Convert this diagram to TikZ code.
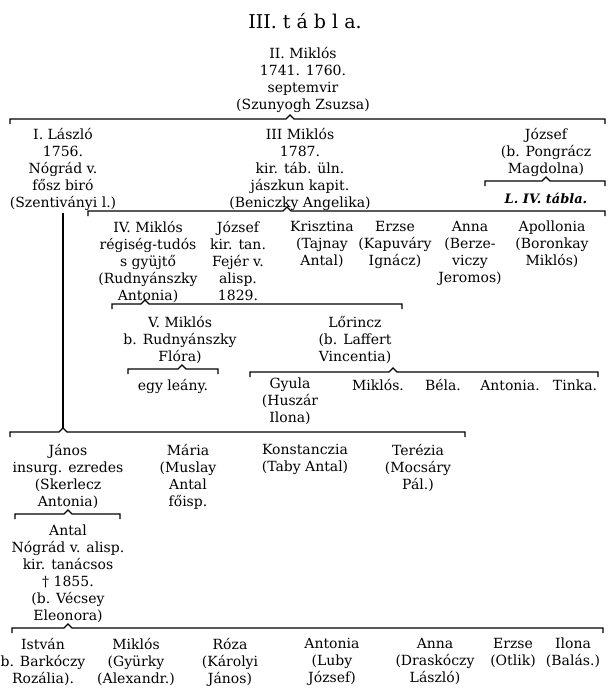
\documentclass[tikz,border=0pt]{standalone}
\usepackage{fontspec}
\setmainfont{DejaVu Serif}
\usetikzlibrary{positioning, calc}

\newcommand{\ag}[3]{\draw[vonal] ([yshift=-5pt]#1) -- (#1) -- ([xshift=-4pt]#2) -- ([yshift=4pt]#2) -- ([xshift=4pt]#2) -- (#3) -- ([yshift=-5pt]#3);}

\begin{document}
\begin{tikzpicture}[x=1pt, y=-1pt,
      szemely/.style={anchor=north, align=center, inner sep=0pt,
        font={\fontsize{14}{17}\selectfont}, execute at begin node=\strut},
      cim/.style={anchor=north, inner sep=0pt, font={\fontsize{19}{22}\selectfont}},
      vonal/.style={draw=black, line width=1.2pt}]
    \useasboundingbox (0,0) rectangle (611,688);
    \node[cim] (tabla) at (305,13) {III. t á b l a.};
    \node[szemely] (ii) at (303,47) {II. Miklós\\1741. 1760.\\septemvir\\(Szunyogh Zsuzsa)};

    \node[szemely] (laszlo) at (63,128) {I. László\\1756.\\Nógrád v.\\fősz biró\\(Szentiványi l.)};
    \node[szemely] (miklos3) at (300,128) {III Miklós\\1787.\\kir. táb. üln.\\jászkun kapit.\\(Beniczky Angelika)};
    \node[szemely] (jozsef) at (546,128) {József\\(b. Pongrácz\\Magdolna)};
    \node[szemely, font={\bfseries\itshape\fontsize{13}{17}\selectfont}] (utal) at (546,191) {L. IV. tábla.};

    \node[szemely] (miklos4) at (148,221) {IV. Miklós\\régiség-tudós\\s gyüjtő\\(Rudnyánszky\\Antonia)};
    \node[szemely] (jozsef2) at (238,221) {József\\kir. tan.\\Fejér v.\\alisp.\\1829.};
    \node[szemely] (krisztina) at (322,221) {Krisztina\\(Tajnay\\Antal)};
    \node[szemely] (erzse) at (395,221) {Erzse\\(Kapuváry\\Ignácz)};
    \node[szemely] (anna) at (470,221) {Anna\\(Berze-\\viczy\\Jeromos)};
    \node[szemely] (apollonia) at (552,221) {Apollonia\\(Boronkay\\Miklós)};

    \node[szemely] (miklos5) at (180,316) {V. Miklós\\b. Rudnyánszky\\Flóra)};
    \node[szemely] (lorincz) at (355,316) {Lőrincz\\(b. Laffert\\Vincentia)};

    \node[szemely] (leany) at (173,378) {egy leány.};
    \node[szemely] (gyula) at (290,378) {Gyula\\(Huszár\\Ilona)};
    \node[szemely] (miklos6) at (378,378) {Miklós.};
    \node[szemely] (bela) at (443,378) {Béla.};
    \node[szemely] (antonia2) at (510,378) {Antonia.};
    \node[szemely] (tinka) at (575,378) {Tinka.};

    \node[szemely] (janos) at (68,444) {János\\insurg. ezredes\\(Skerlecz\\Antonia)};
    \node[szemely] (maria) at (188,444) {Mária\\(Muslay\\Antal\\főisp.};
    \node[szemely] (konstanczia) at (305,444) {Konstanczia\\(Taby Antal)};
    \node[szemely] (terezia) at (418,444) {Terézia\\(Mocsáry\\Pál.)};

    \node[szemely] (antal) at (68,525) {Antal\\Nógrád v. alisp.\\kir. tanácsos\\† 1855.\\(b. Vécsey\\Eleonora)};

    \node[szemely] (istvan) at (43,638) {István\\b. Barkóczy\\Rozália).};
    \node[szemely] (miklos7) at (136,638) {Miklós\\(Gyürky\\(Alexandr.)};
    \node[szemely] (roza) at (230,638) {Róza\\(Károlyi\\János)};
    \node[szemely] (antonia3) at (332,638) {Antonia\\(Luby\\József)};
    \node[szemely] (anna2) at (435,638) {Anna\\(Draskóczy\\László)};
    \node[szemely] (erzse2) at (513,638) {Erzse\\(Otlik)};
    \node[szemely] (ilona) at (573,638) {Ilona\\(Balás.)};

    \coordinate (b1) at (10,119);  \coordinate (j1) at (605,119);
    \coordinate (c1) at ($(ii.south |- b1)+(-13,0)$);
    \coordinate (b2) at (485,181); \coordinate (j2) at (605,181);
    \coordinate (c2) at (jozsef.south |- b2);
    \coordinate (b3) at (88,211);  \coordinate (j3) at (605,211);
    \coordinate (c3) at ($(miklos3.south |- b3)+(-13,0)$);
    \coordinate (b4) at (112,304); \coordinate (j4) at (402,304);
    \coordinate (c4) at ($(miklos4.south |- b4)+(-3,0)$);
    \coordinate (b5) at (128,369); \coordinate (j5) at (218,369);
    \coordinate (c5) at ($(miklos5.south |- b5)+(2,0)$);
    \coordinate (b6) at (250,372); \coordinate (j6) at (598,372);
    \coordinate (c6) at ($(lorincz.south |- b6)+(38,0)$);
    \coordinate (b7) at (10,432);  \coordinate (j7) at (465,432);
    \coordinate (c7) at (laszlo.south |- b7);
    \coordinate (b8) at (15,514);  \coordinate (j8) at (120,514);
    \coordinate (c8) at (janos.south |- b8);
    \coordinate (b9) at (12,628);  \coordinate (j9) at (603,628);
    \coordinate (c9) at (antal.south |- b9);

    \ag{b1}{c1}{j1}
    \ag{b2}{c2}{j2}
    \ag{b3}{c3}{j3}
    \ag{b4}{c4}{j4}
    \ag{b5}{c5}{j5}
    \ag{b6}{c6}{j6}
    \ag{b7}{c7}{j7}
    \ag{b8}{c8}{j8}
    \ag{b9}{c9}{j9}
    \draw[vonal] (laszlo.south) -- ([yshift=4pt]c7);
  \end{tikzpicture}
\end{document}
